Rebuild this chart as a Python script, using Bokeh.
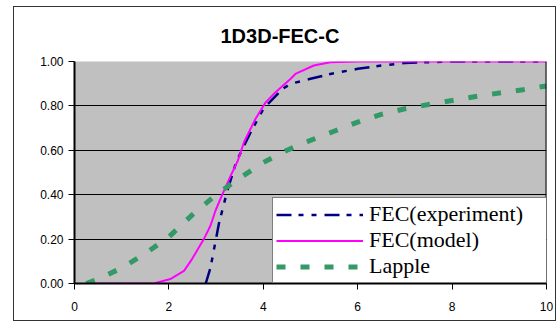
from bokeh.plotting import figure
from bokeh.models import (Range1d, FixedTicker, NumeralTickFormatter, Legend, LegendItem,
                          Span, Title)
from bokeh.embed import file_html
from bokeh.resources import INLINE

title_text = "1D3D-FEC-C"

exp_x = [2.78, 2.88, 3.06, 3.24, 3.43, 3.73, 4.01, 4.40, 4.58, 5.0, 5.42, 6.0, 6.5, 7.0, 7.5, 8.0, 9.0, 10.0]
exp_y = [0.0, 0.07, 0.27, 0.42, 0.55, 0.68, 0.79, 0.875, 0.90, 0.922, 0.944, 0.967, 0.982, 0.993, 0.997, 1.0, 1.0, 1.0]

model_x = [0.35, 1.0, 1.68, 2.03, 2.32, 2.49, 2.74, 2.88, 2.99, 3.13, 3.31, 3.46, 3.59, 3.83,
           4.05, 4.26, 4.58, 4.68, 5.07, 5.42, 6.0, 8.0, 10.0]
model_y = [0.0, 0.0, 0.0, 0.02, 0.057, 0.11, 0.20, 0.26, 0.33, 0.40, 0.486, 0.553, 0.636, 0.74,
           0.816, 0.862, 0.922, 0.944, 0.982, 0.997, 1.0, 1.0, 1.0]

lapple_x = [0.25, 0.5, 1.0, 1.5, 2.0, 2.5, 3.0, 3.5, 4.0, 4.5, 5.0, 5.5, 6.0, 6.5, 7.0, 7.5,
            8.0, 8.5, 9.0, 9.5, 10.0]
lapple_y = [0.0, 0.02, 0.07, 0.135, 0.21, 0.31, 0.40, 0.475, 0.545, 0.60, 0.645, 0.686, 0.727,
            0.762, 0.787, 0.806, 0.824, 0.842, 0.858, 0.873, 0.89]

series_names = ["FEC(experiment)", "FEC(model)", "Lapple"]
x_ticks = [0, 2, 4, 6, 8, 10]
y_ticks = [0.0, 0.2, 0.4, 0.6, 0.8, 1.0]

p = figure(width=543, height=315, output_backend="svg", toolbar_location=None,
           x_range=Range1d(0, 10), y_range=Range1d(0, 1),
           min_border_left=60, min_border_right=11, min_border_top=54, min_border_bottom=39,
           background_fill_color="#C0C0C0", border_fill_color="white",
           outline_line_color=None)
p.styles = {"border": "1px solid #333333", "margin-left": "13px", "margin-top": "6px"}

t = Title(text=title_text, align="left", offset=146, text_font="Liberation Sans",
          text_font_style="bold", text_font_size="20px", text_color="black", standoff=26,
          vertical_align="top")
p.add_layout(t, "above")

for ax in (p.xaxis, p.yaxis):
    ax.axis_line_color = "black"
    ax.axis_line_width = 2
    ax.major_tick_line_color = "black"
    ax.major_tick_in = 0
    ax.major_tick_out = 6
    ax.minor_tick_line_color = None
    ax.major_label_text_font = "Liberation Sans"
    ax.major_label_text_font_size = "12px"
    ax.major_label_text_color = "black"

p.xaxis.ticker = FixedTicker(ticks=x_ticks)
p.yaxis.ticker = FixedTicker(ticks=y_ticks)
p.yaxis.formatter = NumeralTickFormatter(format="0.00")
p.xaxis.major_label_standoff = 12
p.yaxis.major_label_standoff = 5

p.xgrid.grid_line_color = None
p.ygrid.grid_line_color = "black"
p.ygrid.grid_line_width = 1

p.add_layout(Span(location=10, dimension="height", line_color="black", line_width=2))

r_exp = p.line(exp_x, exp_y, line_color="#000080", line_width=2.5, line_dash="15 7 5 8 5 8")
r_model = p.line(model_x, model_y, line_color="#FF00FF", line_width=2)
r_lap = p.line(lapple_x, lapple_y, line_color="#339966", line_width=5, line_dash="9 15")

legend = Legend(items=[LegendItem(label=series_names[0], renderers=[r_exp]),
                       LegendItem(label=series_names[1], renderers=[r_model]),
                       LegendItem(label=series_names[2], renderers=[r_lap])],
                location=(198, 0), padding=3, margin=0, spacing=0,
                glyph_width=87, glyph_height=23, label_height=23, label_standoff=6,
                label_width=175,
                label_text_font="Liberation Serif", label_text_font_size="22px",
                label_text_line_height=0.9,
                label_text_color="black",
                border_line_color="black", border_line_width=1,
                background_fill_color="white", background_fill_alpha=1)
p.add_layout(legend, "center")

open("out.html", "w").write(file_html(p, INLINE))
